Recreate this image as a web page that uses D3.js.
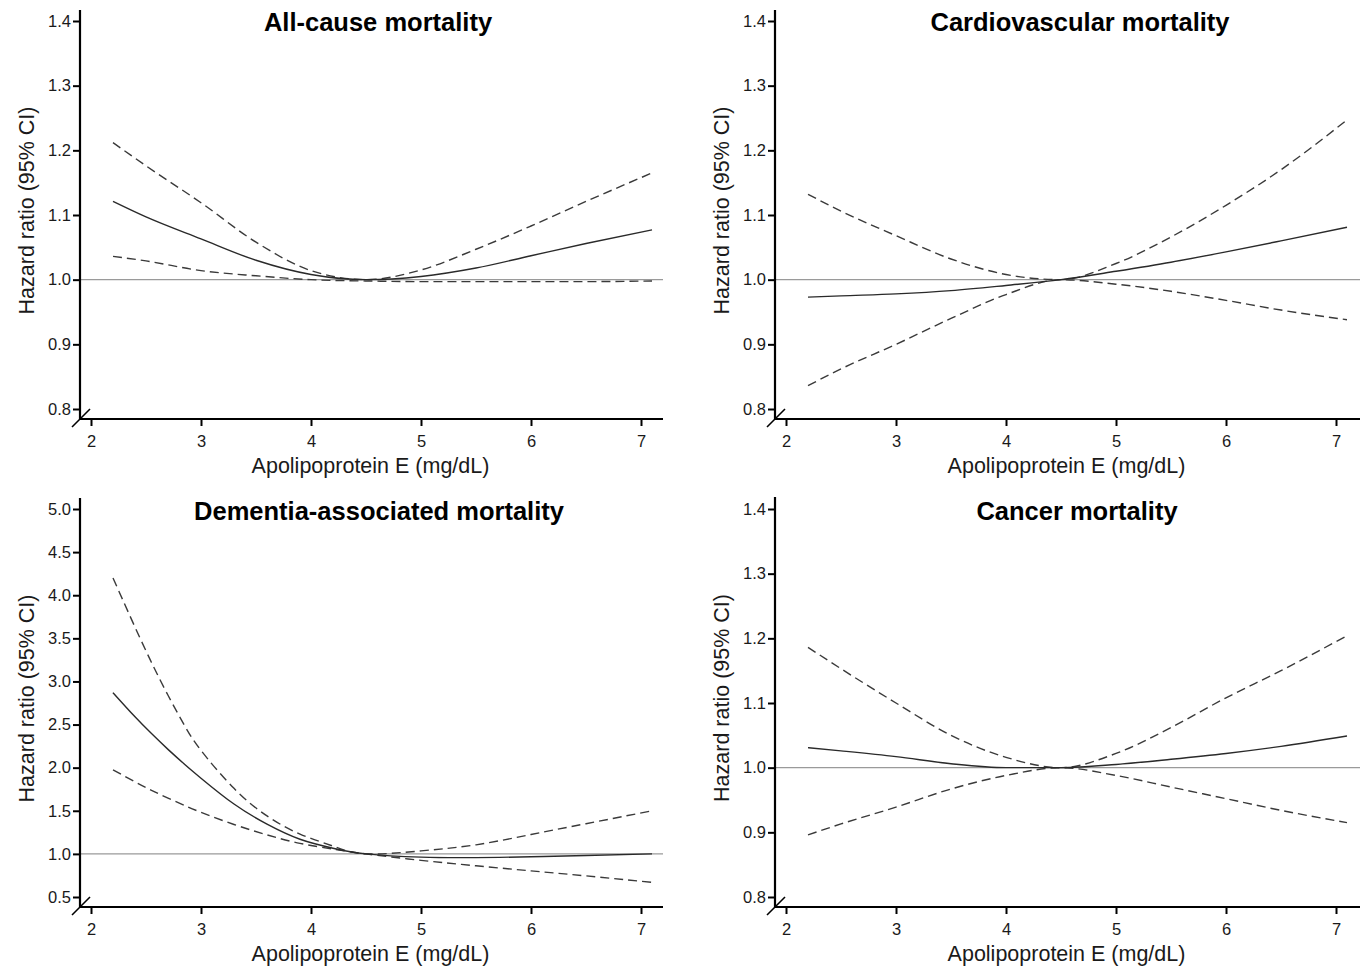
<!DOCTYPE html>
<html>
<head>
<meta charset="utf-8">
<script src="https://cdn.jsdelivr.net/npm/d3@7"></script>
<style>
  html, body { margin: 0; padding: 0; background: #fff; }
  svg { display: block; font-family: "Liberation Sans", Arial, sans-serif; }
</style>
</head>
<body>
<svg id="chart" width="1365" height="968"></svg>
<script>
// ---------------- data ----------------
const xTicks = [2, 3, 4, 5, 6, 7];
const xGrid = [2.2, 2.5, 3.0, 3.5, 4.0, 4.5, 5.0, 5.5, 6.0, 6.5, 7.1];
const xDementia = [2.2, 2.4, 2.55, 2.7, 2.85, 3.0, 3.3, 3.6, 3.9, 4.2, 4.5, 5.0, 5.5, 6.0, 6.5, 7.1];

const allCauseHR    = [1.121, 1.097, 1.063, 1.030, 1.008, 1.000, 1.005, 1.018, 1.037, 1.056, 1.077];
const allCauseUpper = [1.212, 1.176, 1.119, 1.058, 1.014, 1.000, 1.015, 1.047, 1.083, 1.121, 1.165];
const allCauseLower = [1.036, 1.029, 1.014, 1.006, 1.000, 0.998, 0.997, 0.997, 0.997, 0.997, 0.998];

const cardioHR    = [0.973, 0.975, 0.978, 0.983, 0.991, 1.000, 1.013, 1.027, 1.043, 1.060, 1.081];
const cardioUpper = [1.132, 1.106, 1.068, 1.032, 1.008, 1.000, 1.025, 1.066, 1.115, 1.170, 1.247];
const cardioLower = [0.836, 0.862, 0.900, 0.940, 0.977, 1.000, 0.993, 0.982, 0.968, 0.953, 0.938];

const dementiaHR    = [2.87, 2.59, 2.395, 2.212, 2.04, 1.878, 1.578, 1.345, 1.17, 1.066, 1.00, 0.962, 0.957, 0.966, 0.981, 1.000];
const dementiaUpper = [4.20, 3.63, 3.22, 2.84, 2.49, 2.20, 1.76, 1.44, 1.23, 1.09, 1.00, 1.035, 1.105, 1.225, 1.350, 1.500];
const dementiaLower = [1.975, 1.835, 1.737, 1.647, 1.562, 1.482, 1.341, 1.221, 1.122, 1.056, 1.00, 0.925, 0.862, 0.803, 0.745, 0.670];

const cancerHR    = [1.031, 1.026, 1.017, 1.006, 1.000, 1.000, 1.005, 1.013, 1.022, 1.033, 1.049];
const cancerUpper = [1.186, 1.153, 1.100, 1.050, 1.016, 1.000, 1.022, 1.062, 1.108, 1.150, 1.204];
const cancerLower = [0.896, 0.913, 0.939, 0.967, 0.988, 1.000, 0.988, 0.970, 0.952, 0.934, 0.915];

const hrTicksSmall = [0.8, 0.9, 1.0, 1.1, 1.2, 1.3, 1.4];
const hrTicksDementia = [0.5, 1.0, 1.5, 2.0, 2.5, 3.0, 3.5, 4.0, 4.5, 5.0];

const titles = ["All-cause mortality", "Cardiovascular mortality", "Dementia-associated mortality", "Cancer mortality"];
const xLabel = "Apolipoprotein E (mg/dL)";
const yLabel = "Hazard ratio (95% CI)";

// ---------------- layout ----------------
const panels = [
  { title: titles[0], x: xGrid, hr: allCauseHR, up: allCauseUpper, lo: allCauseLower, ticks: hrTicksSmall, curve: d3.curveMonotoneX,
    left: 80, right: 663, top: 10, bottom: 419, yLo: 0.8, yHi: 1.4, yLoPx: 409, yHiPx: 21, titleX: 378, titleY: 31 },
  { title: titles[1], x: xGrid, hr: cardioHR, up: cardioUpper, lo: cardioLower, ticks: hrTicksSmall, curve: d3.curveMonotoneX,
    left: 775, right: 1360, top: 10, bottom: 419, yLo: 0.8, yHi: 1.4, yLoPx: 409, yHiPx: 21, titleX: 1080, titleY: 31 },
  { title: titles[2], x: xDementia, hr: dementiaHR, up: dementiaUpper, lo: dementiaLower, ticks: hrTicksDementia, curve: d3.curveNatural,
    left: 80, right: 663, top: 498, bottom: 907, yLo: 0.5, yHi: 5.0, yLoPx: 897, yHiPx: 509, titleX: 379, titleY: 520 },
  { title: titles[3], x: xGrid, hr: cancerHR, up: cancerUpper, lo: cancerLower, ticks: hrTicksSmall, curve: d3.curveMonotoneX,
    left: 775, right: 1360, top: 497, bottom: 907, yLo: 0.8, yHi: 1.4, yLoPx: 897, yHiPx: 509, titleX: 1077, titleY: 520 }
];

const svg = d3.select("#chart");

panels.forEach(p => {
  const g = svg.append("g");
  const x0 = p.left + 11;
  const xs = d3.scaleLinear().domain([2, 7]).range([x0, x0 + 550]);
  const ys = d3.scaleLinear().domain([p.yLo, p.yHi]).range([p.yLoPx, p.yHiPx]);

  // reference line at HR = 1
  g.append("line")
    .attr("x1", p.left).attr("x2", p.right)
    .attr("y1", ys(1)).attr("y2", ys(1))
    .attr("stroke", "#9a9a9a").attr("stroke-width", 1.1);

  const line = (arr) => d3.line()
    .x((d, i) => xs(p.x[i]))
    .y(d => ys(d))
    .curve(p.curve)(arr);

  g.append("path").attr("d", line(p.up)).attr("fill", "none")
    .attr("stroke", "#3a3a3a").attr("stroke-width", 1.4).attr("stroke-dasharray", "9,5");
  g.append("path").attr("d", line(p.lo)).attr("fill", "none")
    .attr("stroke", "#3a3a3a").attr("stroke-width", 1.4).attr("stroke-dasharray", "9,5");
  g.append("path").attr("d", line(p.hr)).attr("fill", "none")
    .attr("stroke", "#2a2a2a").attr("stroke-width", 1.4);

  // y axis
  const yAxis = d3.axisLeft(ys).tickValues(p.ticks).tickSize(7).tickPadding(2)
    .tickFormat(d3.format(".1f"));
  const ga = g.append("g").attr("transform", `translate(${p.left},0)`).call(yAxis);
  ga.select(".domain").remove();
  ga.selectAll(".tick line").attr("stroke", "#000").attr("stroke-width", 2);
  ga.selectAll(".tick text").attr("font-size", 16.5).attr("fill", "#1a1a1a")
    .attr("font-family", "'Liberation Sans', Arial, sans-serif");

  // x axis
  const xAxis = d3.axisBottom(xs).tickValues(xTicks).tickSize(7).tickPadding(9)
    .tickFormat(d3.format("d"));
  const gx = g.append("g").attr("transform", `translate(0,${p.bottom})`).call(xAxis);
  gx.select(".domain").remove();
  gx.selectAll(".tick line").attr("stroke", "#000").attr("stroke-width", 2);
  gx.selectAll(".tick text").attr("font-size", 16.5).attr("fill", "#1a1a1a")
    .attr("font-family", "'Liberation Sans', Arial, sans-serif");

  // axis lines
  g.append("line").attr("x1", p.left).attr("x2", p.left).attr("y1", p.top).attr("y2", p.bottom)
    .attr("stroke", "#000").attr("stroke-width", 2.2);
  g.append("line").attr("x1", p.left - 1).attr("x2", p.right).attr("y1", p.bottom).attr("y2", p.bottom)
    .attr("stroke", "#000").attr("stroke-width", 2.2);
  // axis break mark
  g.append("line").attr("x1", p.left - 8).attr("y1", p.bottom + 8)
    .attr("x2", p.left + 10).attr("y2", p.bottom - 10)
    .attr("stroke", "#000").attr("stroke-width", 1.6);

  // title
  g.append("text").attr("x", p.titleX).attr("y", p.titleY)
    .attr("text-anchor", "middle").attr("font-size", 25.5).attr("font-weight", "bold")
    .attr("fill", "#000").text(p.title);

  // x label
  g.append("text").attr("x", (p.left + p.right) / 2 - 1).attr("y", p.bottom + 54)
    .attr("text-anchor", "middle").attr("font-size", 21.5).attr("fill", "#1a1a1a").text(xLabel);

  // y label
  const yc = (p.top + p.bottom) / 2 - 4;
  g.append("text").attr("transform", `translate(${p.left - 46},${yc}) rotate(-90)`)
    .attr("text-anchor", "middle").attr("font-size", 21.5).attr("fill", "#1a1a1a").text(yLabel);
});
</script>
</body>
</html>
